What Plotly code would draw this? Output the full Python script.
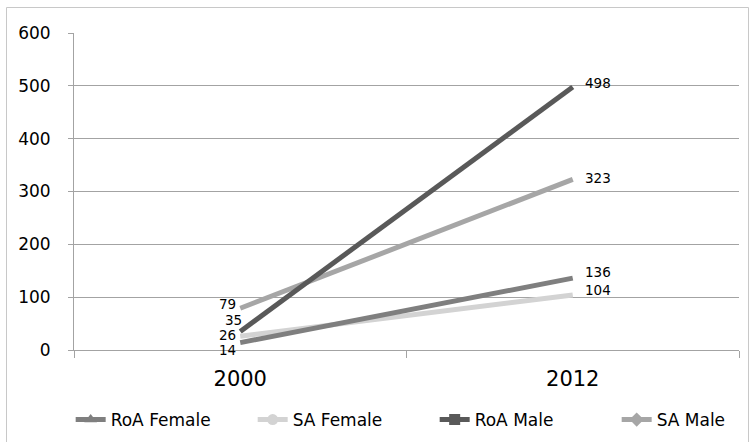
import plotly.graph_objects as go

years = ["2000", "2012"]
series_names = ["RoA Female", "SA Female", "RoA Male", "SA Male"]
roa_female = [14, 136]
sa_female = [26, 104]
roa_male = [35, 498]
sa_male = [79, 323]
y_ticks = [0, 100, 200, 300, 400, 500, 600]

values = {"RoA Female": roa_female, "SA Female": sa_female,
          "RoA Male": roa_male, "SA Male": sa_male}
colors = {"RoA Female": "#7f7f7f", "SA Female": "#d3d3d3",
          "RoA Male": "#595959", "SA Male": "#a6a6a6"}
symbols = {"RoA Female": "triangle-up", "SA Female": "circle",
           "RoA Male": "square", "SA Male": "diamond"}
# label offsets (px) for [2000, 2012] labels: (xshift, yshift)
label_off = {"RoA Female": [(-3, -7), (11, 6)],
             "SA Female": [(-3, 1), (11, 5)],
             "RoA Male": [(3, 12), (11, 4)],
             "SA Male": [(-3, 4), (11, 1)]}

FONT = "DejaVu Sans"
fig = go.Figure()

# data lines (drawn so that earlier series lie on top)
for name in reversed(series_names):
    fig.add_trace(go.Scatter(x=years, y=values[name], mode="lines",
                             line=dict(color=colors[name], width=5),
                             showlegend=False, hoverinfo="skip"))
# legend entries
for name in series_names:
    fig.add_trace(go.Scatter(x=[None], y=[None], mode="lines+markers", name=name,
                             line=dict(color=colors[name], width=5),
                             marker=dict(symbol=symbols[name], size=11, color=colors[name])))

annotations = []
for name in series_names:
    for i, yr in enumerate(years):
        xs, ys = label_off[name][i]
        annotations.append(dict(x=i, y=values[name][i], xref="x", yref="y",
                                text=str(values[name][i]), borderpad=0,
                                showarrow=False, xanchor="right" if i == 0 else "left",
                                yanchor="middle", xshift=xs, yshift=ys,
                                font=dict(family=FONT, size=13.5, color="#000000")))

grid = "#a3a3a3"
fig.update_layout(
    width=749, height=442,
    margin=dict(l=74, r=10, t=33, b=92, autoexpand=False),
    paper_bgcolor="white", plot_bgcolor="white",
    font=dict(family=FONT, color="#000000"),
    annotations=annotations,
    xaxis=dict(type="category", range=[-0.5, 1.5], tickson="boundaries",
               ticks="outside", ticklen=7, tickcolor=grid, showline=True,
               linecolor=grid, linewidth=1, showgrid=False, automargin=False,
               tickfont=dict(family=FONT, size=21, color="#000000"),
               ticklabelstandoff=10),
    yaxis=dict(range=[0, 600], tickvals=y_ticks, showgrid=True, gridcolor=grid,
               gridwidth=1, showline=True, linecolor=grid, ticks="outside",
               ticklen=5, tickcolor=grid, zeroline=False, automargin=False,
               tickfont=dict(family=FONT, size=17, color="#000000"),
               ticklabelstandoff=14),
    legend=dict(orientation="h", x=-0.005, xanchor="left", y=-0.221, yanchor="middle",
                font=dict(family=FONT, size=17, color="#000000"),
                entrywidth=137, entrywidthmode="pixels", bgcolor="rgba(0,0,0,0)"),
    shapes=[dict(type="rect", xref="paper", yref="paper",
                 x0=(6.5 - 74) / 665, x1=(748.5 - 74) / 665,
                 y0=(350 - 446) / 317, y1=(350 - 7.5) / 317,
                 line=dict(color="#c8c8c8", width=1), layer="below")],
)

fig.write_html("out.html", config={"displayModeBar": False},
               post_script="document.body.style.margin='0';")
